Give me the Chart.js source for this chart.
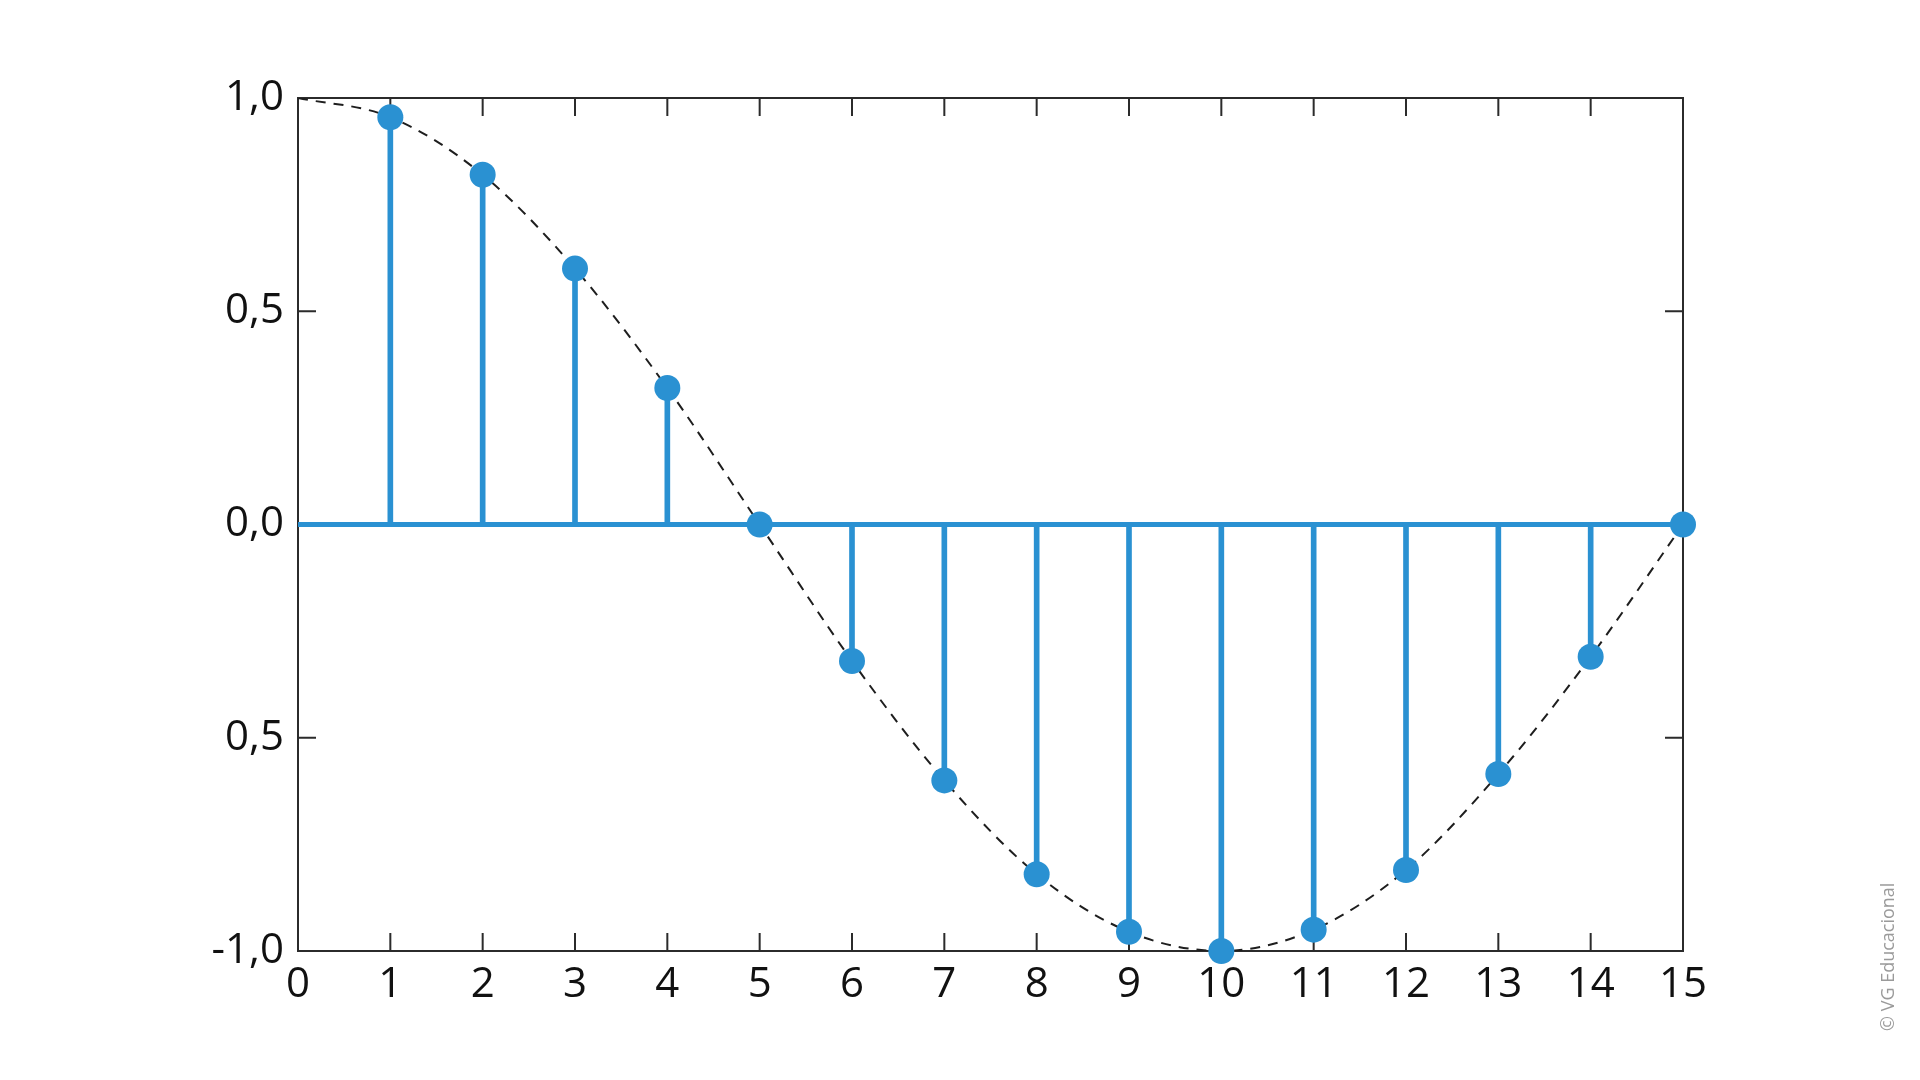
<!DOCTYPE html>
<html>
<head>
<meta charset="utf-8">
<script src="https://cdn.jsdelivr.net/npm/chart.js@4/dist/chart.umd.min.js"></script>
<style>
  html, body { margin: 0; padding: 0; background: #fff; }
  #wrap { width: 1920px; height: 1080px; }
</style>
</head>
<body>
<div id="wrap"><canvas id="stemChart" width="1920" height="1080"></canvas></div>
<script>
// samples n = 1..15
const nValues = [1, 2, 3, 4, 5, 6, 7, 8, 9, 10, 11, 12, 13, 14, 15];
const sampleValues = [0.955, 0.82, 0.60, 0.32, 0, -0.32, -0.60, -0.82, -0.955, -1.0, -0.95, -0.81, -0.585, -0.31, 0];
// dashed envelope passes through the samples, starting at (0, 1)
const curveX = [0, 1, 2, 3, 4, 5, 6, 7, 8, 9, 10, 11, 12, 13, 14, 15];
const curveY = [1.0, 0.955, 0.82, 0.60, 0.32, 0, -0.32, -0.60, -0.82, -0.955, -1.0, -0.95, -0.81, -0.585, -0.31, 0];
const zeroLineX = [0, 15];
const yTickValues = [-1, -0.5, 0, 0.5, 1];
const yTickLabels = ['-1,0', '0,5', '0,0', '0,5', '1,0'];

const blue = '#2a91d2';
const ink = '#2b2b2b';

const toPoints = (xs, ys) => xs.map((x, i) => ({ x: x, y: ys[i] }));

// frame, inward ticks and credit line
const framePlugin = {
    id: 'frame',
    beforeDatasetsDraw(chart) {
        const { ctx, chartArea: a, scales } = chart;
        const tickLen = 18;
        ctx.save();
        ctx.strokeStyle = ink;
        ctx.lineWidth = 2;
        ctx.strokeRect(a.left, a.top, a.right - a.left, a.bottom - a.top);
        ctx.beginPath();
        for (let n = 1; n < 15; n++) {
            const px = scales.x.getPixelForValue(n);
            ctx.moveTo(px, a.bottom); ctx.lineTo(px, a.bottom - tickLen);
            ctx.moveTo(px, a.top); ctx.lineTo(px, a.top + tickLen);
        }
        [-1, -0.5, 0.5].forEach(v => {
            const py = scales.y.getPixelForValue(v);
            ctx.moveTo(a.left, py); ctx.lineTo(a.left + tickLen, py);
            ctx.moveTo(a.right, py); ctx.lineTo(a.right - tickLen, py);
        });
        ctx.stroke();
        ctx.restore();
    },
    afterDraw(chart) {
        const ctx = chart.ctx;
        ctx.save();
        ctx.translate(1889, 1031);
        ctx.rotate(-Math.PI / 2);
        ctx.fillStyle = '#9a9a9a';
        ctx.font = '18px "Open Sans"';
        ctx.textAlign = 'left';
        ctx.textBaseline = 'middle';
        ctx.fillText('\u00A9 VG Educacional', 0, 0);
        ctx.restore();
    }
};

Chart.defaults.font.family = '"Open Sans", sans-serif';

const ctx = document.getElementById('stemChart').getContext('2d');
const stemChart = new Chart(ctx, {
    type: 'line',
    data: {
        datasets: [
            {
                type: 'line', label: 'envelope', order: 5,
                data: toPoints(curveX, curveY),
                borderColor: '#1e1e1e', borderWidth: 2, borderDash: [10, 8],
                cubicInterpolationMode: 'monotone', pointRadius: 0, fill: false
            },
            {
                type: 'bar', label: 'stems', order: 3,
                data: toPoints(nValues, sampleValues),
                backgroundColor: blue, borderWidth: 0, barThickness: 5
            },
            {
                type: 'line', label: 'zero', order: 2,
                data: zeroLineX.map(x => ({ x: x, y: 0 })),
                borderColor: blue, borderWidth: 5, pointRadius: 0, fill: false
            },
            {
                type: 'scatter', label: 'samples', order: 1, clip: false,
                data: toPoints(nValues, sampleValues),
                backgroundColor: blue, borderWidth: 0, pointRadius: 13, showLine: false
            }
        ]
    },
    options: {
        responsive: false,
        devicePixelRatio: 1,
        animation: false,
        layout: { padding: { left: 0, top: 98, right: 237, bottom: 69 } },
        plugins: { legend: { display: false }, tooltip: { enabled: false } },
        scales: {
            x: {
                type: 'linear', min: 0, max: 15, offset: false,
                grid: { display: false }, border: { display: false },
                ticks: {
                    stepSize: 1, padding: 1, color: '#111',
                    font: { size: 42 },
                    callback: v => String(v)
                },
                afterFit: s => { s.height = 60; }
            },
            y: {
                type: 'linear', min: -1, max: 1,
                grid: { display: false }, border: { display: false },
                afterBuildTicks: s => { s.ticks = yTickValues.map(v => ({ value: v })); },
                ticks: {
                    padding: 6, color: '#111',
                    font: { size: 42 },
                    callback: (v, i) => yTickLabels[i]
                },
                afterFit: s => { s.width = 298; }
            }
        }
    },
    plugins: [framePlugin]
});
</script>
</body>
</html>
